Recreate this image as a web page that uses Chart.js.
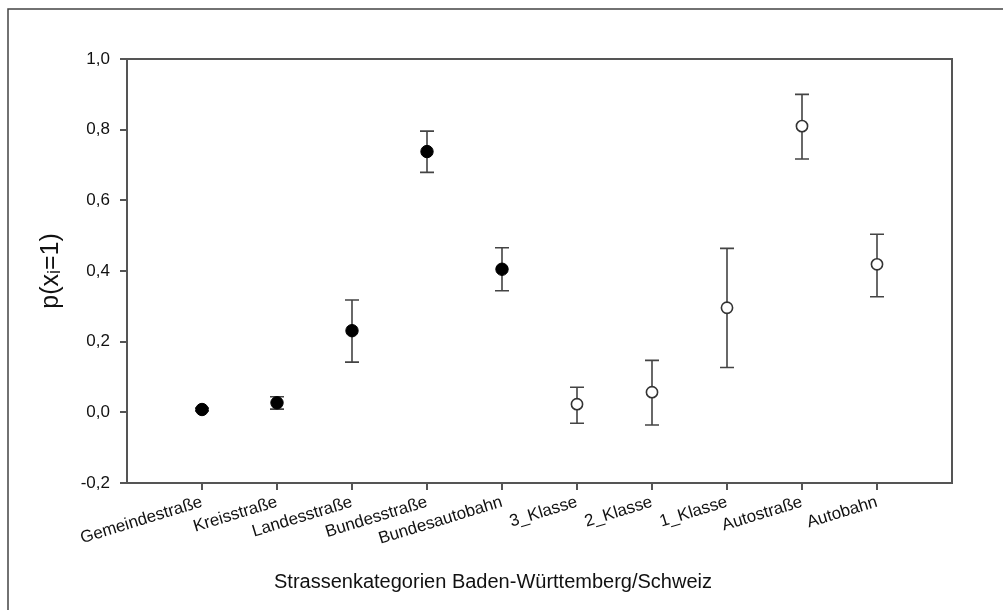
<!DOCTYPE html>
<html>
<head>
<meta charset="utf-8">
<script src="https://cdn.jsdelivr.net/npm/chart.js@4.4.1/dist/chart.umd.min.js"></script>
<style>
  html, body { margin: 0; padding: 0; background: #fff; }
  #wrap { width: 1003px; height: 610px; position: relative; }
</style>
</head>
<body>
<div id="wrap"><canvas id="c" width="1003" height="610"></canvas></div>
<script>
// ---- data ----
const categories = ["Gemeindestraße", "Kreisstraße", "Landesstraße", "Bundesstraße", "Bundesautobahn",
                    "3_Klasse", "2_Klasse", "1_Klasse", "Autostraße", "Autobahn"];
// Baden-Württemberg (filled markers), category positions 1..5
const bwPos   = [1, 2, 3, 4, 5];
const bwMean  = [0.008, 0.027, 0.231, 0.738, 0.405];
const bwLower = [0.004, 0.009, 0.142, 0.679, 0.344];
const bwUpper = [0.012, 0.044, 0.318, 0.796, 0.466];
// Schweiz (open markers), category positions 6..10
const chPos   = [6, 7, 8, 9, 10];
const chMean  = [0.023, 0.057, 0.296, 0.810, 0.419];
const chLower = [-0.031, -0.036, 0.127, 0.717, 0.327];
const chUpper = [0.071, 0.147, 0.464, 0.900, 0.504];
const yTicks  = [-0.2, 0.0, 0.2, 0.4, 0.6, 0.8, 1.0];

const toPoints = (pos, mean, lo, hi) => pos.map((p, i) => ({ x: p, y: mean[i], lo: lo[i], hi: hi[i] }));

const FONT = "'Liberation Sans', Arial, sans-serif";
const AXIS = '#555';
const TEXT = '#111';

const errorBars = {
  id: 'errorBars',
  beforeDatasetsDraw(chart) {
    const ctx = chart.ctx;
    const xs = chart.scales.x, ys = chart.scales.y;
    ctx.save();
    ctx.strokeStyle = '#444';
    ctx.lineWidth = 1.6;
    chart.data.datasets.forEach(ds => {
      ds.data.forEach(pt => {
        const x = xs.getPixelForValue(pt.x);
        const yl = ys.getPixelForValue(pt.lo);
        const yh = ys.getPixelForValue(pt.hi);
        ctx.beginPath();
        ctx.moveTo(x, yl); ctx.lineTo(x, yh);
        ctx.moveTo(x - 7, yl); ctx.lineTo(x + 7, yl);
        ctx.moveTo(x - 7, yh); ctx.lineTo(x + 7, yh);
        ctx.stroke();
      });
    });
    ctx.restore();
  }
};

const frame = {
  id: 'frame',
  beforeDraw(chart) {
    const ctx = chart.ctx;
    ctx.save();
    ctx.strokeStyle = '#444';
    ctx.lineWidth = 1.5;
    ctx.beginPath();
    ctx.moveTo(8, 620); ctx.lineTo(8, 9); ctx.lineTo(1010, 9);
    ctx.stroke();
    ctx.restore();
  },
  afterDraw(chart) {
    const a = chart.chartArea, ctx = chart.ctx;
    ctx.save();
    ctx.strokeStyle = AXIS;
    ctx.lineWidth = 2;
    ctx.strokeRect(a.left, a.top, a.right - a.left, a.bottom - a.top);
    ctx.restore();
  }
};

new Chart(document.getElementById('c'), {
  type: 'scatter',
  data: {
    datasets: [
      {
        label: 'Baden-Württemberg',
        data: toPoints(bwPos, bwMean, bwLower, bwUpper),
        pointRadius: 6.2,
        pointBackgroundColor: '#000',
        pointBorderColor: '#000',
        pointBorderWidth: 1
      },
      {
        label: 'Schweiz',
        data: toPoints(chPos, chMean, chLower, chUpper),
        pointRadius: 5.6,
        pointBackgroundColor: '#fff',
        pointBorderColor: '#333',
        pointBorderWidth: 1.6
      }
    ]
  },
  options: {
    responsive: false,
    animation: false,
    layout: { padding: { left: 34, right: 51, top: 59, bottom: 8 } },
    plugins: {
      legend: { display: false },
      tooltip: { enabled: false },
      title: {
        display: true,
        position: 'bottom',
        text: 'Strassenkategorien Baden-Württemberg/Schweiz',
        color: TEXT,
        font: { family: FONT, size: 20, weight: 'normal' },
        padding: { top: 8, bottom: 8 }
      }
    },
    scales: {
      x: {
        type: 'linear',
        min: 0, max: 11,
        afterBuildTicks(scale) { scale.ticks = categories.map((_, i) => ({ value: i + 1 })); },
        afterFit(scale) { scale.height = 79; },
        ticks: {
          autoSkip: false,
          minRotation: 17, maxRotation: 17,
          padding: 2,
          color: TEXT,
          font: { family: FONT, size: 17 },
          callback: (v) => categories[v - 1] || ''
        },
        grid: { drawOnChartArea: false, drawTicks: true, tickLength: 7, color: AXIS, lineWidth: 2 },
        border: { display: true, color: AXIS, width: 2 }
      },
      y: {
        min: -0.2, max: 1.0,
        afterBuildTicks(scale) { scale.ticks = yTicks.map(v => ({ value: v })); },
        afterFit(scale) { scale.width = 93; },
        ticks: {
          padding: 10,
          color: TEXT,
          font: { family: FONT, size: 17 },
          callback: (v) => v.toFixed(1).replace('.', ',')
        },
        title: {
          display: true,
          text: 'p(xᵢ=1)',
          color: TEXT,
          font: { family: FONT, size: 25 },
          padding: { top: 2, bottom: 0 }
        },
        grid: { drawOnChartArea: false, drawTicks: true, tickLength: 7, color: AXIS, lineWidth: 2 },
        border: { display: true, color: AXIS, width: 2 }
      }
    }
  },
  plugins: [errorBars, frame]
});
</script>
</body>
</html>
